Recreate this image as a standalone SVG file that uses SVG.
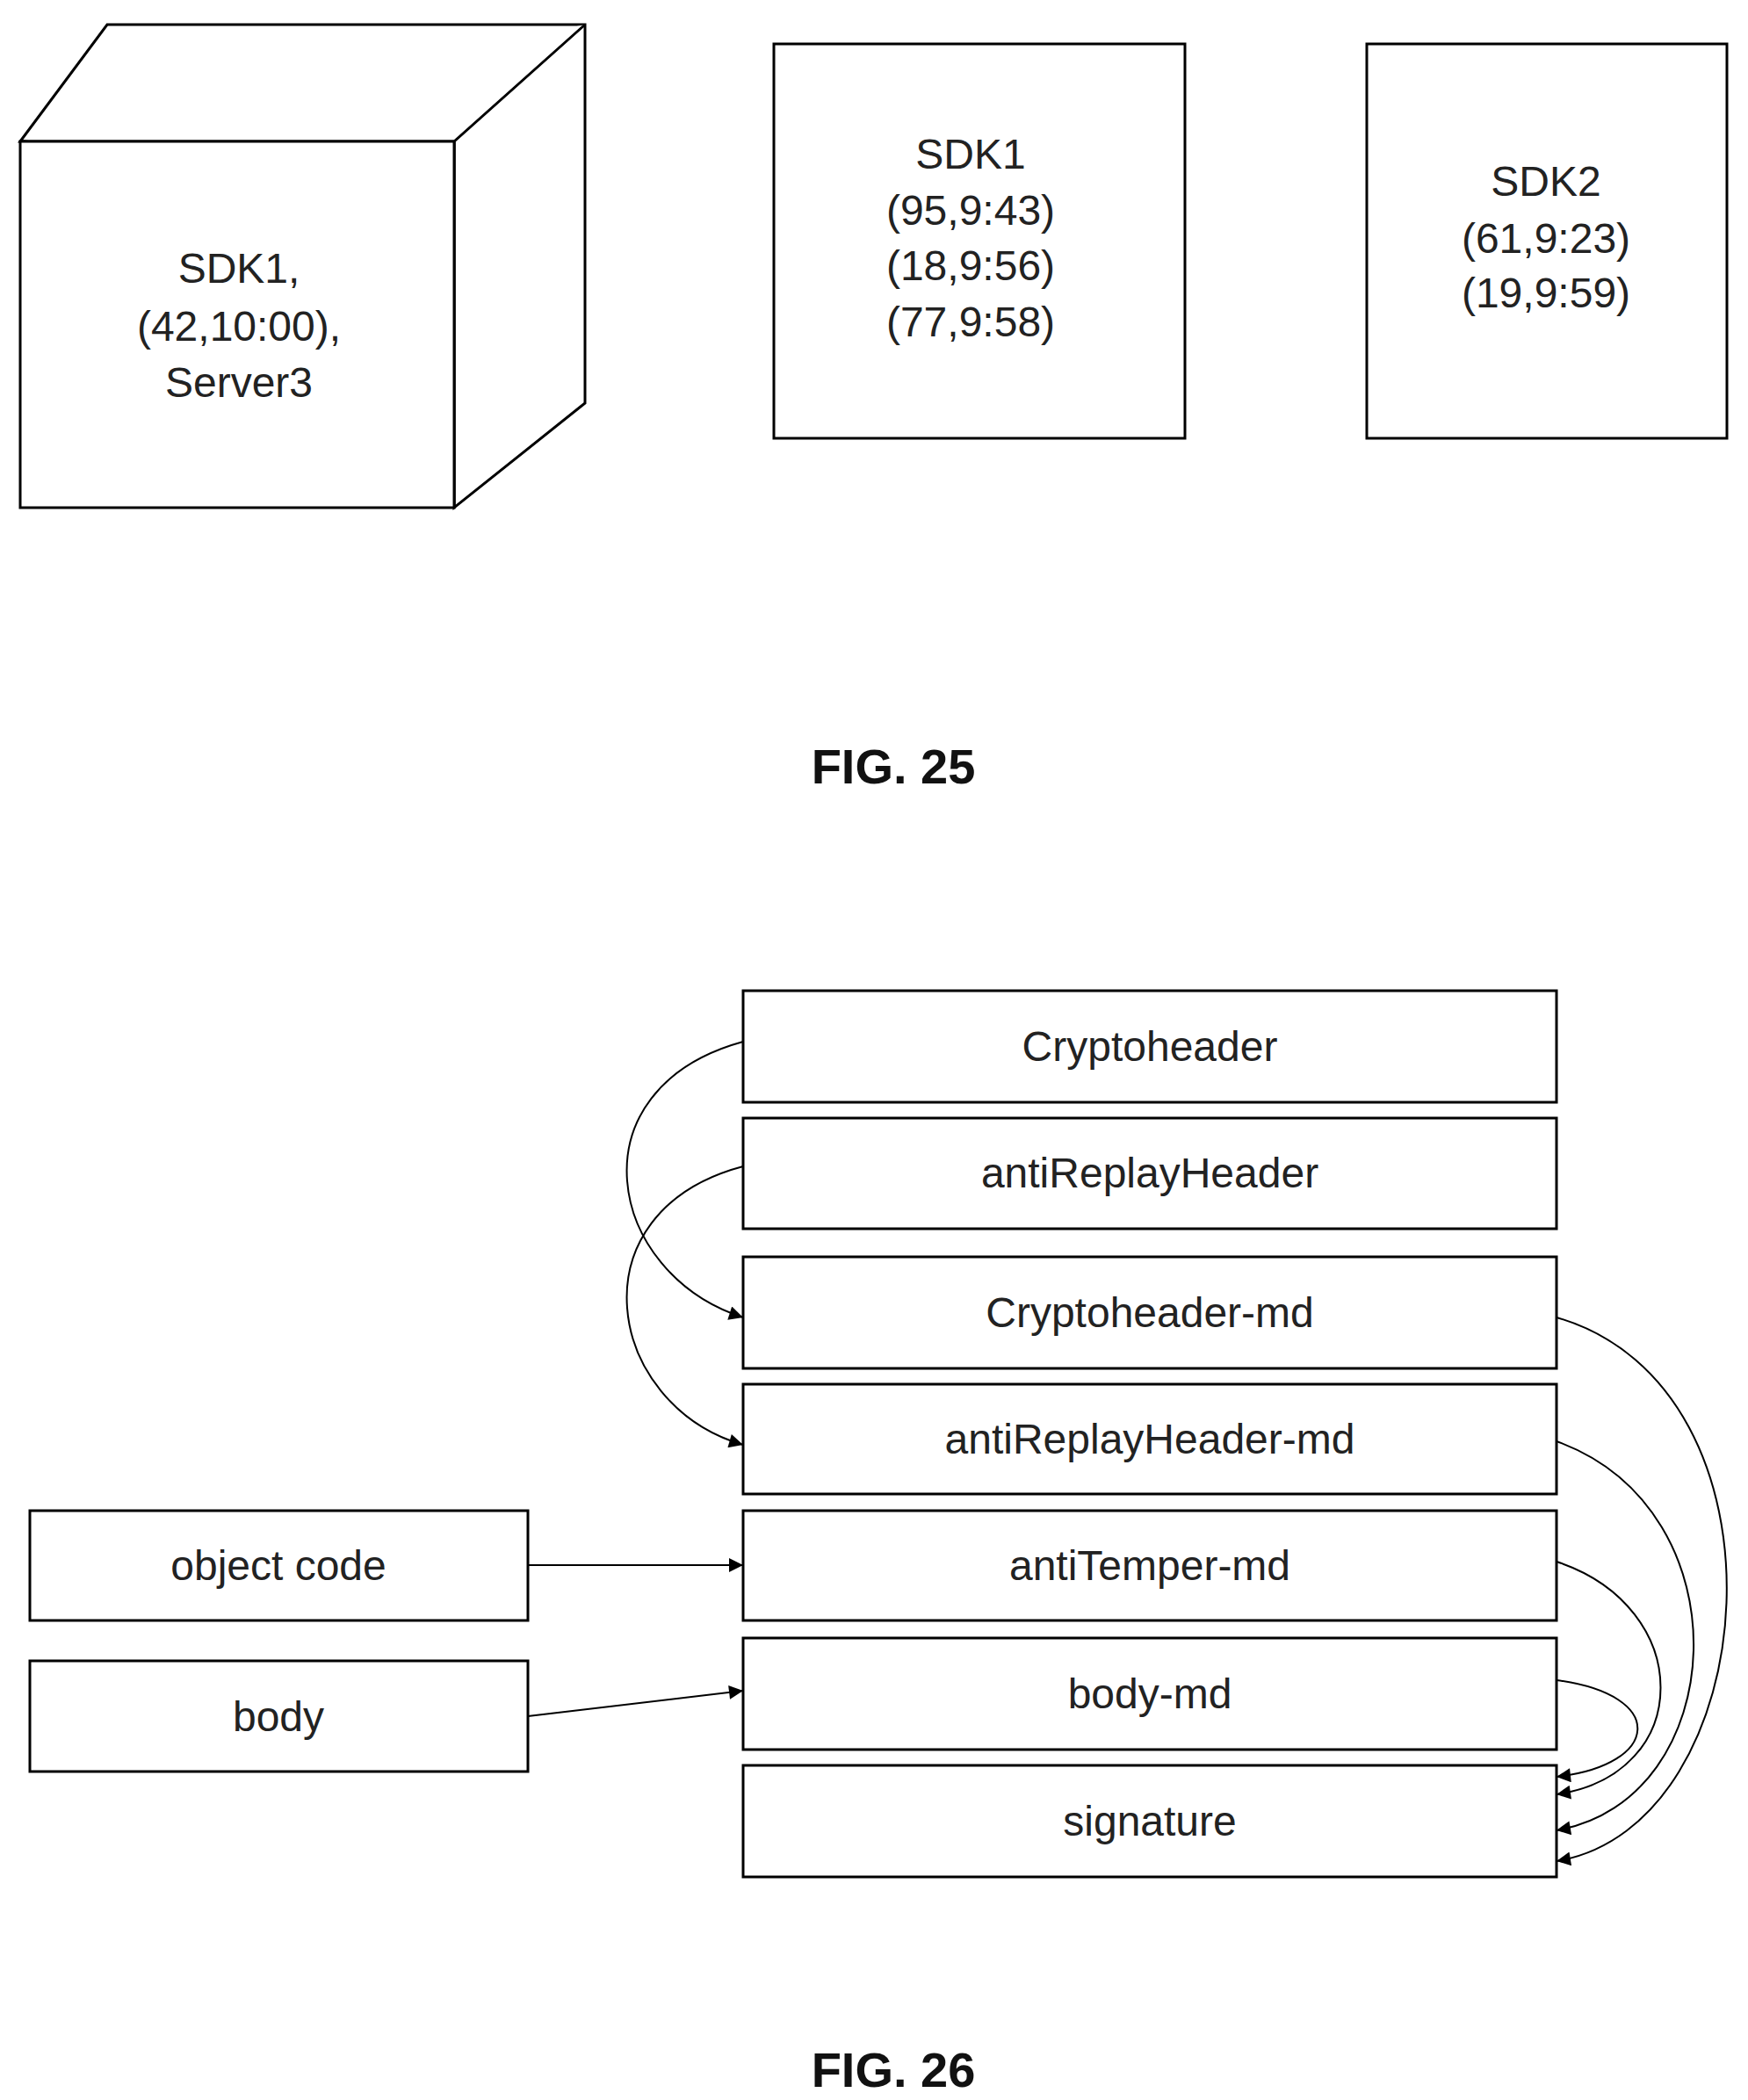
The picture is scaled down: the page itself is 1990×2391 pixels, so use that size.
<svg xmlns="http://www.w3.org/2000/svg" width="1990" height="2391" viewBox="0 0 1990 2391">
<style>
.b{fill:#fff;stroke:#000;stroke-width:3}
.t{font-family:"Liberation Sans",Arial,sans-serif;font-size:48px;fill:#222;text-anchor:middle}
.f{font-family:"Liberation Sans",Arial,sans-serif;font-size:56px;font-weight:bold;fill:#111;text-anchor:middle}
.c{fill:none;stroke:#000;stroke-width:2}
</style>
<defs>
<marker id="a2" viewBox="0 0 10 10" refX="10" refY="5" markerWidth="20" markerHeight="16" markerUnits="userSpaceOnUse" orient="auto"><path d="M0,0L10,5L0,10z" fill="#000"/></marker></defs>
<g id="cube">
<path class="b" d="M23,161L122,28L666,28L666,459L517,578L517,161Z"/>
<path class="b" d="M23,161L517,161L666,28M517,161L517,578"/>
<rect class="b" x="23" y="161" width="494" height="417"/>
<text class="t" x="272" y="322">SDK1,</text>
<text class="t" x="272" y="388">(42,10:00),</text>
<text class="t" x="272" y="452">Server3</text>
</g>
<g id="sdk1">
<rect class="b" x="881" y="50" width="468" height="449"/>
<text class="t" x="1105" y="192">SDK1</text>
<text class="t" x="1105" y="256">(95,9:43)</text>
<text class="t" x="1105" y="319">(18,9:56)</text>
<text class="t" x="1105" y="383">(77,9:58)</text>
</g>
<g id="sdk2">
<rect class="b" x="1556" y="50" width="410" height="449"/>
<text class="t" x="1760" y="223">SDK2</text>
<text class="t" x="1760" y="288">(61,9:23)</text>
<text class="t" x="1760" y="350">(19,9:59)</text>
</g>
<text class="f" x="1017" y="892">FIG. 25</text>
<g id="cryptoheader"><rect class="b" x="846" y="1128" width="926" height="127"/><text class="t" x="1309" y="1208">Cryptoheader</text></g>
<g id="antiReplayHeader"><rect class="b" x="846" y="1273" width="926" height="126"/><text class="t" x="1309" y="1352">antiReplayHeader</text></g>
<g id="cryptoheader-md"><rect class="b" x="846" y="1431" width="926" height="127"/><text class="t" x="1309" y="1511">Cryptoheader-md</text></g>
<g id="antiReplayHeader-md"><rect class="b" x="846" y="1576" width="926" height="125"/><text class="t" x="1309" y="1655">antiReplayHeader-md</text></g>
<g id="antiTemper-md"><rect class="b" x="846" y="1720" width="926" height="125"/><text class="t" x="1309" y="1799">antiTemper-md</text></g>
<g id="body-md"><rect class="b" x="846" y="1865" width="926" height="127"/><text class="t" x="1309" y="1945">body-md</text></g>
<g id="signature"><rect class="b" x="846" y="2010" width="926" height="127"/><text class="t" x="1309" y="2090">signature</text></g>
<g id="object-code"><rect class="b" x="34" y="1720" width="567" height="125"/><text class="t" x="317" y="1799">object code</text></g>
<g id="body"><rect class="b" x="34" y="1891" width="567" height="126"/><text class="t" x="317" y="1971">body</text></g>
<g id="connectors">
<path class="c" marker-end="url(#a2)" d="M601,1782L846,1782"/>
<path class="c" marker-end="url(#a2)" d="M601,1954L846,1925"/>
<path class="c" marker-end="url(#a2)" d="M846,1186C650,1240 690,1450 846,1500"/>
<path class="c" marker-end="url(#a2)" d="M846,1328C650,1380 690,1600 846,1645"/>
<path class="c" marker-end="url(#a2)" d="M1772,1500C2050,1580 2010,2080 1772,2119"/>
<path class="c" marker-end="url(#a2)" d="M1772,1641C1990,1720 1970,2050 1772,2084"/>
<path class="c" marker-end="url(#a2)" d="M1772,1778C1930,1830 1930,2020 1772,2043"/>
<path class="c" marker-end="url(#a2)" d="M1772,1913C1900,1930 1890,2010 1772,2023"/>
</g>
<text class="f" x="1017" y="2376">FIG. 26</text>
</svg>
